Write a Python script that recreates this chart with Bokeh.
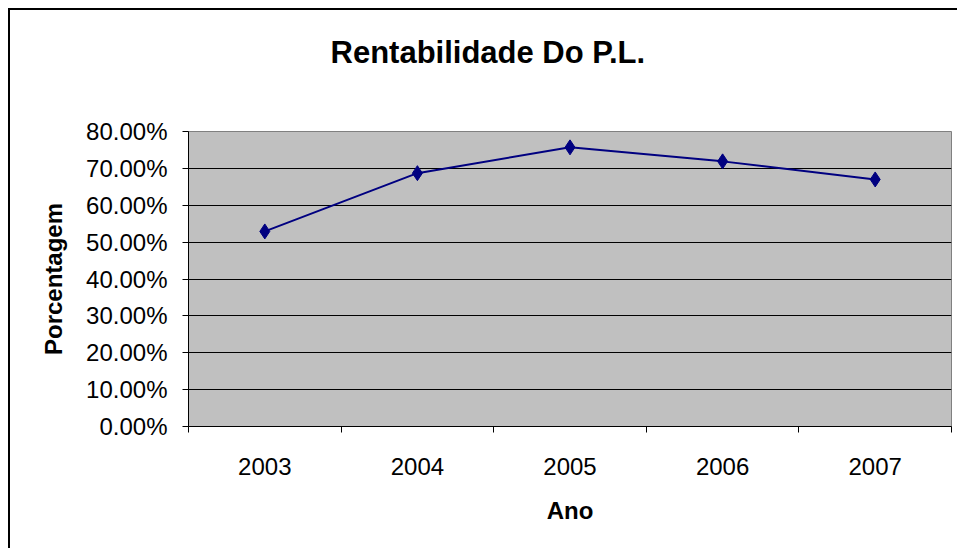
from bokeh.plotting import figure
from bokeh.layouts import column
from bokeh.models import Range1d, FixedTicker, NumeralTickFormatter, Title
from bokeh.embed import file_html
from bokeh.resources import INLINE

# ---- data ----
years = ["2003", "2004", "2005", "2006", "2007"]
rentabilidade = [0.529, 0.687, 0.757, 0.719, 0.670]
y_ticks = [0.0, 0.1, 0.2, 0.3, 0.4, 0.5, 0.6, 0.7, 0.8]
title_text = "Rentabilidade Do P.L."
x_title = "Ano"
y_title = "Porcentagem"

FONT = "Liberation Sans"

x_pos = [i + 0.5 for i in range(len(years))]
x_bounds = [float(i) for i in range(len(years) + 1)]

p = figure(width=949, height=540,
           x_range=Range1d(0, len(years)), y_range=Range1d(y_ticks[0], y_ticks[-1]),
           output_backend="svg", toolbar_location=None,
           min_border_left=178, min_border_right=8,
           min_border_top=121, min_border_bottom=124)

p.background_fill_color = "#C0C0C0"
p.border_fill_color = "white"
p.outline_line_color = "#808080"
p.outline_line_width = 1

# grid
p.xgrid.visible = False
p.ygrid.ticker = FixedTicker(ticks=y_ticks)
p.ygrid.grid_line_color = "black"
p.ygrid.grid_line_width = 1

# x axis
xa = p.xaxis[0]
xa.ticker = FixedTicker(ticks=x_pos, minor_ticks=x_bounds)
xa.major_label_overrides = {x: y for x, y in zip(x_pos, years)}
xa.major_tick_out = 0
xa.major_tick_in = 0
xa.minor_tick_out = 6
xa.minor_tick_in = 0
xa.minor_tick_line_color = "black"
xa.axis_line_color = "black"
xa.axis_line_width = 1
xa.major_label_text_font = FONT
xa.major_label_text_font_size = "24px"
xa.major_label_text_color = "black"
xa.major_label_standoff = 25
xa.axis_label = x_title
xa.axis_label_text_font = FONT
xa.axis_label_text_font_size = "24px"
xa.axis_label_text_font_style = "bold"
xa.axis_label_text_color = "black"
xa.axis_label_standoff = 19

# y axis
ya = p.yaxis[0]
ya.ticker = FixedTicker(ticks=y_ticks, minor_ticks=[])
ya.formatter = NumeralTickFormatter(format="0.00%")
ya.major_tick_out = 6
ya.major_tick_in = 0
ya.major_tick_line_color = "black"
ya.minor_tick_out = 0
ya.minor_tick_in = 0
ya.axis_line_color = "black"
ya.major_label_text_font = FONT
ya.major_label_text_font_size = "24px"
ya.major_label_text_color = "black"
ya.major_label_standoff = 15
ya.axis_label = y_title
ya.axis_label_text_font = FONT
ya.axis_label_text_font_size = "24px"
ya.axis_label_text_font_style = "bold"
ya.axis_label_text_color = "black"
ya.axis_label_standoff = 16

# series
p.line(x_pos, rentabilidade, line_color="#000080", line_width=2)
p.scatter(x_pos, rentabilidade, marker="diamond", size=15,
          fill_color="#000080", line_color="#000080")

# spacer between frame and title, then the title itself
p.add_layout(Title(text=" ", text_font_size="1px", standoff=49), "above")
p.add_layout(Title(text=title_text, align="left", offset=142, standoff=20,
                   text_font=FONT, text_font_size="31px",
                   text_font_style="bold", text_color="black"), "above")

# outer chart border: only its left and top edges fall inside the page
layout = column(p, styles={"margin-left": "10px", "margin-top": "10px",
                           "box-shadow": "-2px -2px 0px 0px black"})

open("out.html", "w").write(file_html(layout, INLINE))
